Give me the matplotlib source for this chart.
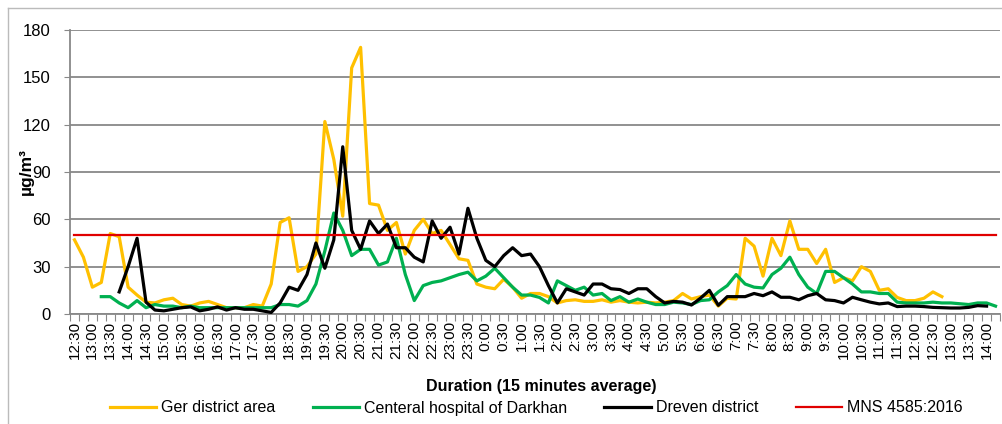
import matplotlib.pyplot as plt
from matplotlib.lines import Line2D
import numpy as np

plt.rcParams['font.family'] = ['Liberation Sans', 'DejaVu Sans']

nan = np.nan

# 15 minute steps, 12:30 -> 14:15 next day
hours = [(12 * 60 + 30 + 15 * k) // 60 % 24 for k in range(104)]
minutes = [(12 * 60 + 30 + 15 * k) % 60 for k in range(104)]
times = [f"{h}:{m:02d}" for h, m in zip(hours, minutes)]

ger = [47, 36, 17, 20, 51, 49, 17, 12, 7.5, 7, 9, 10, 6, 5, 7, 8, 6, 4, 4, 4,
       6, 5, 19, 58, 61, 27, 30, 38, 122, 98, 62, 156, 169, 70, 69, 53, 58, 38, 53, 60,
       51, 53, 44, 35, 34, 19, 17, 16, 22, 17, 10, 13, 13, 11, 7, 8.5, 9, 8, 8, 9,
       7.5, 8.5, 7.5, 7, 7.5, 7, 7.5, 8.5, 13, 9.5, 11, 12, 5, 10, 9.5, 48, 43, 24, 48, 37,
       59, 41, 41, 32, 41, 20, 23, 21, 30, 27, 15, 16, 10.5, 8.5, 8.5, 10, 14, 11,
       nan, nan, nan, nan, nan, nan]

hospital = [nan, nan, nan, 11, 11, 7, 4, 8.5, 4, 6, 5, 5, 4, 5, 4, 4, 4, 4, 4, 4,
            4, 4, 4, 6, 6, 5, 8.5, 19, 40, 64, 53, 37, 41, 41, 31, 33, 48, 25, 8.5, 18,
            20, 21, 23, 25, 26.5, 21, 24, 29, 23, 17, 12, 12, 10.5, 7, 21, 18, 15, 17, 12, 13,
            8.5, 11, 7.5, 9.5, 7.5, 6, 6, 7.5, 7, 6, 8.5, 9, 14, 18, 25, 19, 17, 16.5, 25, 29,
            36, 25, 17, 13, 27, 27, 23, 19, 14, 14, 13, 13, 7.5, 7, 7, 7, 7.5, 7, 7, 6.5,
            6, 7, 7, 5]

dreven = [nan, nan, nan, nan, nan, 14, 30, 48, 7.5, 2.5, 2, 3, 4, 4.5, 2, 3, 4.5, 2.5, 4, 3,
          3, 2, 1, 7, 17, 15, 25, 45, 29, 47, 106, 53, 41, 59, 51, 57, 42, 42, 36, 33,
          59, 48, 55, 38, 67, 48, 34, 30, 37, 42, 37, 38, 30, 18, 7, 16, 14, 12, 19, 19,
          16, 15.5, 13, 16, 16, 11, 7, 8, 7.5, 5.7, 10, 15, 5.5, 11, 11, 11, 13, 11.6, 14, 10.6,
          10.6, 9, 11.6, 13, 9, 8.5, 7, 10.6, 9, 7.5, 6.4, 7, 4.7, 5, 5, 4.7, 4.2, 4, 3.8, 3.8,
          4.2, 5.3, 5, nan]

standard = [50] * 104

fig = plt.figure(figsize=(10.02, 4.24), dpi=100)
ax = fig.add_axes([70 / 1002, 1 - 314 / 424, 930 / 1002, 284 / 424])

x = np.arange(len(times))
ax.plot(x, ger, color='#FFC000', lw=2.3, label='Ger district area', zorder=3)
ax.plot(x, hospital, color='#00B050', lw=2.3, label='Centeral hospital of Darkhan', zorder=3)
ax.plot(x, dreven, color='black', lw=2.3, label='Dreven district', zorder=4)
ax.plot(x, standard, color='#E00000', lw=1.6, label='MNS 4585:2016', zorder=5)

ax.set_xlim(-0.5, len(times) - 0.5)
ax.set_ylim(0, 180)
ax.set_yticks(range(0, 181, 30))
ax.tick_params(axis='y', labelsize=12, length=4, color='#888888', pad=10)
ax.yaxis.grid(True, color='#888888', lw=1.3)
ax.set_axisbelow(True)

# tick marks between categories, labels every 30 minutes
ax.set_xticks(np.arange(-0.5, len(times), 1))
ax.set_xticklabels([])
ax.tick_params(axis='x', which='major', length=5, color='#888888', direction='out')
ax.set_xticks(x[::2], minor=True)
ax.set_xticklabels(times[::2], minor=True, rotation=90, fontsize=11)
ax.tick_params(axis='x', which='minor', length=0, pad=5)

for s in ['top', 'right']:
    ax.spines[s].set_visible(False)
for s in ['left', 'bottom']:
    ax.spines[s].set_color('#888888')
    ax.spines[s].set_linewidth(1.3)

ax.set_ylabel('µg/m³', fontsize=12.5, fontweight='bold')
ax.yaxis.set_label_coords(-0.039, 0.5)
fig.text(0.54, 1 - 386 / 424, 'Duration (15 minutes average)', fontsize=11.5,
         fontweight='bold', ha='center', va='center')

fig.legend(loc='center', bbox_to_anchor=(0.535, 1 - 408 / 424), ncol=4, frameon=False,
           fontsize=11.5, handlelength=2.9, handletextpad=0.3, columnspacing=2.35)

# outer chart frame
fig.add_artist(Line2D([8 / 1002, 8 / 1002], [0, 1 - 8 / 424], color='#BBBBBB', lw=1,
                      transform=fig.transFigure))
fig.add_artist(Line2D([8 / 1002, 1], [1 - 8 / 424, 1 - 8 / 424], color='#BBBBBB', lw=1,
                      transform=fig.transFigure))

fig.savefig('out.png', dpi=100)
